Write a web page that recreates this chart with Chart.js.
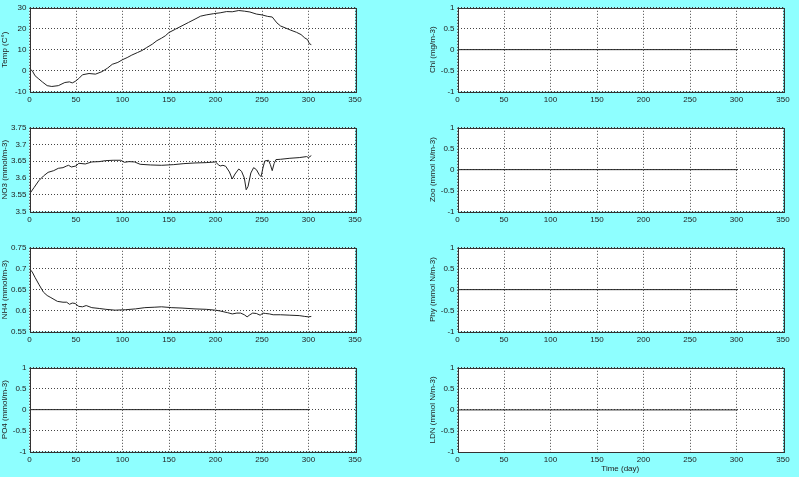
<!DOCTYPE html>
<html>
<head>
<meta charset="utf-8">
<script src="https://cdn.jsdelivr.net/npm/chart.js@4.4.0/dist/chart.umd.min.js"></script>
<style>
  html, body { margin: 0; padding: 0; background: #8effff; }
  body { width: 799px; height: 477px; position: relative; overflow: hidden; }
  canvas { position: absolute; }
</style>
</head>
<body>
<canvas id="temp" width="368" height="112" style="left:0px;top:0px"></canvas>
<canvas id="no3" width="368" height="112" style="left:0px;top:120px"></canvas>
<canvas id="nh4" width="368" height="112" style="left:0px;top:240px"></canvas>
<canvas id="po4" width="368" height="112" style="left:0px;top:360px"></canvas>
<canvas id="chl" width="368" height="112" style="left:428px;top:0px"></canvas>
<canvas id="zoo" width="368" height="112" style="left:428px;top:120px"></canvas>
<canvas id="phy" width="368" height="112" style="left:428px;top:240px"></canvas>
<canvas id="ldn" width="368" height="114" style="left:428px;top:360px"></canvas>
<script>
// valores (dia, valor)
const tempDias = [0, 3, 6, 10, 14, 19, 24, 31, 38, 43, 46, 49, 53, 57, 64, 71, 78, 84, 89, 95, 100, 105, 110, 116, 121, 126, 132, 137, 142, 146, 150, 157, 164, 171, 178, 184, 190, 198, 205, 212, 218, 225, 231, 237, 244, 250, 256, 261, 266, 270, 275, 281, 287, 292, 296, 299, 301, 303];
const tempValores = [0.8, -0.1, -2.5, -4, -5.5, -7.2, -7.6, -7.2, -5.7, -5.4, -5.9, -5.2, -3.8, -2, -1.4, -1.7, -0.5, 1.2, 3, 3.9, 5.2, 6.2, 7.4, 8.6, 9.6, 11, 12.6, 14.3, 15.5, 16.6, 18.2, 19.8, 21.4, 23, 24.6, 26, 26.6, 27.2, 27.6, 28.2, 28.1, 28.7, 28.4, 28, 27, 26.6, 25.9, 25.6, 22.8, 21.3, 20.4, 19.3, 18.3, 17.2, 15.6, 14.8, 12.8, 12.4];

const no3Dias = [0, 5, 10, 15, 20, 26, 31, 36, 40, 42, 45, 50, 53, 60, 67, 75, 82, 90, 98, 102, 107, 113, 119, 130, 142, 155, 166, 178, 190, 200, 203, 205, 208, 211, 215, 218, 221, 225, 228, 231, 233, 235, 238, 241, 244, 247, 249, 251, 253, 257, 259, 261, 263, 265, 270, 280, 290, 298, 300, 303];
const no3Valores = [3.552, 3.572, 3.592, 3.606, 3.617, 3.622, 3.629, 3.631, 3.636, 3.638, 3.633, 3.636, 3.644, 3.642, 3.648, 3.649, 3.652, 3.653, 3.653, 3.647, 3.649, 3.648, 3.641, 3.639, 3.638, 3.640, 3.643, 3.645, 3.646, 3.648, 3.640, 3.636, 3.638, 3.635, 3.618, 3.597, 3.612, 3.627, 3.620, 3.600, 3.565, 3.575, 3.615, 3.631, 3.625, 3.610, 3.604, 3.630, 3.651, 3.653, 3.640, 3.622, 3.643, 3.655, 3.656, 3.659, 3.661, 3.664, 3.661, 3.667];

const nh4Dias = [0, 3, 6, 10, 15, 19, 23, 30, 36, 40, 43, 46, 49, 53, 57, 61, 67, 75, 82, 92, 103, 114, 124, 134, 142, 153, 164, 178, 190, 200, 205, 209, 213, 218, 223, 227, 231, 234, 237, 240, 244, 248, 251, 254, 258, 262, 270, 280, 290, 296, 300, 303];
const nh4Valores = [0.700, 0.692, 0.679, 0.663, 0.644, 0.636, 0.631, 0.622, 0.620, 0.620, 0.615, 0.618, 0.617, 0.610, 0.609, 0.612, 0.607, 0.605, 0.603, 0.601, 0.602, 0.604, 0.607, 0.608, 0.609, 0.607, 0.606, 0.604, 0.603, 0.601, 0.599, 0.597, 0.595, 0.592, 0.594, 0.594, 0.590, 0.585, 0.590, 0.594, 0.593, 0.589, 0.594, 0.593, 0.592, 0.590, 0.590, 0.589, 0.588, 0.586, 0.585, 0.586];

const zeroDias = [0, 100, 200, 301];
const zeroValores = [0, 0, 0, 0];

const xTicks = [0, 50, 100, 150, 200, 250, 300, 350];
const tempTicks = [-10, 0, 10, 20, 30];
const no3Ticks = [3.5, 3.55, 3.6, 3.65, 3.7, 3.75];
const nh4Ticks = [0.55, 0.6, 0.65, 0.7, 0.75];
const zeroTicks = [-1, -0.5, 0, 0.5, 1];

const FONTE = "'Liberation Sans', Arial, sans-serif";
Chart.defaults.font.family = FONTE;
Chart.defaults.font.size = 8;
Chart.defaults.color = '#222';

// fundo branco + caixa em volta da área do gráfico
const caixa = {
  id: 'caixa',
  beforeDraw(chart) {
    const a = chart.chartArea, ctx = chart.ctx;
    ctx.save();
    ctx.fillStyle = '#fff';
    ctx.fillRect(a.left, a.top, a.right - a.left, a.bottom - a.top);
    ctx.restore();
  },
  afterDraw(chart) {
    const a = chart.chartArea, ctx = chart.ctx;
    ctx.save();
    ctx.strokeStyle = '#333';
    ctx.lineWidth = 1;
    ctx.strokeRect(Math.round(a.left) + 0.5, Math.round(a.top) + 0.5, Math.round(a.right - a.left), Math.round(a.bottom - a.top));
    ctx.restore();
  }
};

function montarPainel(id, dias, valores, yTicks, yTitulo, xTitulo) {
  const pontos = dias.map((d, i) => ({ x: d, y: valores[i] }));
  const grade = {
    color: '#444',
    lineWidth: 1,
    drawTicks: false,
    tickBorderDash: [1, 2],
    borderDash: [1, 2]
  };
  return new Chart(document.getElementById(id), {
    type: 'line',
    data: {
      datasets: [{
        data: pontos,
        borderColor: '#222',
        borderWidth: 1,
        pointRadius: 0,
        tension: 0,
        fill: false
      }]
    },
    options: {
      responsive: false,
      animation: false,
      events: [],
      layout: { padding: { top: 6, right: 13, left: 0, bottom: 0 } },
      plugins: { legend: { display: false }, tooltip: { enabled: false } },
      scales: {
        x: {
          type: 'linear',
          min: 0,
          max: 350,
          grid: grade,
          border: { display: false, dash: [1, 2] },
          afterBuildTicks: s => { s.ticks = xTicks.map(v => ({ value: v })); },
          ticks: { padding: 3, maxRotation: 0, autoSkip: false, callback: v => String(v) },
          title: { display: !!xTitulo, text: xTitulo || '', padding: { top: 0, bottom: 0 }, font: { size: 8 } },
          afterFit: s => { s.height = xTitulo ? 22 : 20.5; }
        },
        y: {
          type: 'linear',
          min: yTicks[0],
          max: yTicks[yTicks.length - 1],
          grid: grade,
          border: { display: false, dash: [1, 2] },
          afterBuildTicks: s => { s.ticks = yTicks.map(v => ({ value: v })); },
          ticks: { padding: 3, autoSkip: false, callback: v => String(Number(v.toFixed(2))) },
          title: { display: true, text: yTitulo, padding: { top: 0, bottom: 0 }, font: { size: 8 } },
          afterFit: s => { s.width = 29.5; }
        }
      }
    },
    plugins: [caixa]
  });
}

montarPainel('temp', tempDias, tempValores, tempTicks, 'Temp (C°)');
montarPainel('no3', no3Dias, no3Valores, no3Ticks, 'NO3 (mmol/m-3)');
montarPainel('nh4', nh4Dias, nh4Valores, nh4Ticks, 'NH4 (mmol/m-3)');
montarPainel('po4', zeroDias, zeroValores, zeroTicks, 'PO4 (mmol/m-3)');
montarPainel('chl', zeroDias, zeroValores, zeroTicks, 'Chl (mg/m-3)');
montarPainel('zoo', zeroDias, zeroValores, zeroTicks, 'Zoo (mmol N/m-3)');
montarPainel('phy', zeroDias, zeroValores, zeroTicks, 'Phy (mmol N/m-3)');
montarPainel('ldn', zeroDias, zeroValores, zeroTicks, 'LDN (mmol N/m-3)', 'Time (day)');
</script>
</body>
</html>
